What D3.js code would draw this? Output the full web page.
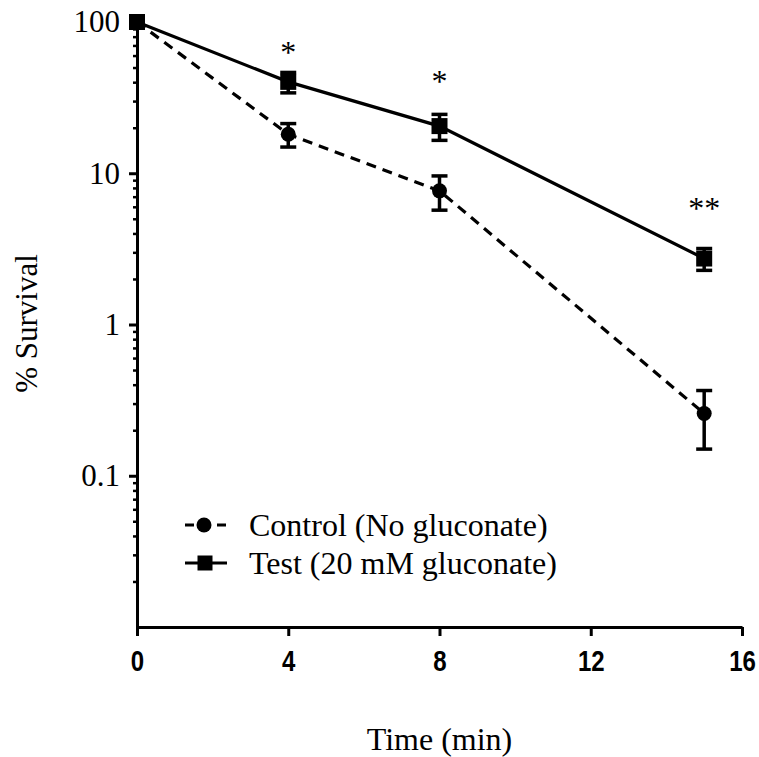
<!DOCTYPE html>
<html><head><meta charset="utf-8">
<script src="https://cdn.jsdelivr.net/npm/d3@7"></script>
<style>
body{margin:0;background:#fff;}
svg{display:block;}
</style></head>
<body>
<svg id="chart" width="759" height="757"></svg>
<script>
// ---- data ----
const times = [0, 4, 8, 15];
const controlMean = [100, 18.1, 7.65, 0.258];
const controlErr  = [0, 3.2, 1.95, 0.108];
const testMean    = [100, 40.2, 20.5, 2.73];
const testErr     = [0, 6.2, 4.0, 0.45];
const sigTimes  = [4, 8, 15];
const sigLabels = ["*", "*", "**"];
const sigValues = [67, 43, 6.3];
const xTickValues = [0, 4, 8, 12, 16];
const yTickValues = [0.1, 1, 10, 100];
const yTickLabels = ["0.1", "1", "10", "100"];
const seriesNames = ["Control (No gluconate)", "Test (20 mM gluconate)"];
const xTitle = "Time (min)";
const yTitle = "% Survival";

(function () {
// ---- layout ----
const svg = d3.select("#chart");
const mLeft = 137, mRight = 742, mTop = 22, mBottom = 627;
const x = d3.scaleLinear().domain([0, 16]).range([mLeft, mRight]);
const y = d3.scaleLog().domain([0.01, 100]).range([mBottom, mTop]);
const serif = "'Liberation Serif','Times New Roman',serif";

// minor y ticks
const minor = y.ticks().filter(v => !yTickValues.includes(v) && v !== 0.01);
svg.append("g").attr("transform", `translate(${mLeft},0)`)
  .call(d3.axisLeft(y).tickValues(minor).tickSize(4).tickFormat(""))
  .call(g => g.select(".domain").remove())
  .selectAll("line").attr("stroke", "#000").attr("stroke-width", 2.5);

// major y axis
const yAxis = svg.append("g").attr("transform", `translate(${mLeft},0)`)
  .call(d3.axisLeft(y).tickValues(yTickValues).tickSize(8).tickSizeOuter(0).tickPadding(9)
    .tickFormat((d, i) => yTickLabels[i]));
yAxis.select(".domain").attr("stroke", "#000").attr("stroke-width", 3);
yAxis.selectAll(".tick line").attr("stroke", "#000").attr("stroke-width", 3);
yAxis.selectAll("text").attr("font-family", serif).attr("font-size", 31).attr("fill", "#000");

// x axis
const xAxis = svg.append("g").attr("transform", `translate(0,${mBottom})`)
  .call(d3.axisBottom(x).tickValues(xTickValues).tickSize(9).tickSizeOuter(0).tickPadding(14));
xAxis.select(".domain").attr("stroke", "#000").attr("stroke-width", 3);
xAxis.selectAll(".tick line").attr("stroke", "#000").attr("stroke-width", 3);
xAxis.selectAll("text")
  .attr("font-family", "'Liberation Sans',Arial,sans-serif")
  .attr("font-weight", "bold").attr("font-size", 30).attr("fill", "#000")
  .attr("transform", "scale(0.8,1)");

// titles
svg.append("text").attr("x", (mLeft + mRight) / 2).attr("y", 750)
  .attr("text-anchor", "middle").attr("font-family", serif).attr("font-size", 32).text(xTitle);
svg.append("text").attr("transform", `translate(37,${(mTop + mBottom) / 2 - 1}) rotate(-90)`)
  .attr("text-anchor", "middle").attr("font-family", serif).attr("font-size", 31).text(yTitle);

// series
const ctrl = times.map((t, i) => ({t, v: controlMean[i], e: controlErr[i]}));
const test = times.map((t, i) => ({t, v: testMean[i], e: testErr[i]}));
const line = d3.line().x(d => x(d.t)).y(d => y(d.v));

svg.append("path").datum(ctrl).attr("d", line).attr("fill", "none")
  .attr("stroke", "#000").attr("stroke-width", 3.2).attr("stroke-dasharray", "10,7");
svg.append("path").datum(test).attr("d", line).attr("fill", "none")
  .attr("stroke", "#000").attr("stroke-width", 3.2);

function errorBars(data) {
  const g = svg.append("g").attr("stroke", "#000").attr("stroke-width", 3.5);
  data.filter(d => d.e > 0).forEach(d => {
    const cx = x(d.t), y1 = y(d.v + d.e), y2 = y(d.v - d.e);
    g.append("line").attr("x1", cx).attr("x2", cx).attr("y1", y1).attr("y2", y2);
    g.append("line").attr("x1", cx - 8).attr("x2", cx + 8).attr("y1", y1).attr("y2", y1);
    g.append("line").attr("x1", cx - 8).attr("x2", cx + 8).attr("y1", y2).attr("y2", y2);
  });
}
errorBars(ctrl);
errorBars(test);

svg.append("g").selectAll("circle").data(ctrl).join("circle")
  .attr("cx", d => x(d.t)).attr("cy", d => y(d.v)).attr("r", 7.5).attr("fill", "#000");
svg.append("g").selectAll("rect").data(test).join("rect")
  .attr("x", d => x(d.t) - 8).attr("y", d => y(d.v) - 8).attr("width", 16).attr("height", 16).attr("fill", "#000");

// significance
svg.append("g").selectAll("text").data(sigTimes).join("text")
  .attr("x", d => x(d)).attr("y", (d, i) => y(sigValues[i]) + 15)
  .attr("text-anchor", "middle").attr("font-family", serif).attr("font-size", 32)
  .text((d, i) => sigLabels[i]);

// legend
const lg = svg.append("g");
const lx = 185, ly = [525, 563];
lg.append("line").attr("x1", lx).attr("x2", lx + 42).attr("y1", ly[0]).attr("y2", ly[0])
  .attr("stroke", "#000").attr("stroke-width", 3.2).attr("stroke-dasharray", "9,8,3,12");
lg.append("circle").attr("cx", lx + 19).attr("cy", ly[0]).attr("r", 7.5).attr("fill", "#000");
lg.append("line").attr("x1", lx).attr("x2", lx + 42).attr("y1", ly[1]).attr("y2", ly[1])
  .attr("stroke", "#000").attr("stroke-width", 3.2);
lg.append("rect").attr("x", lx + 20 - 7.5).attr("y", ly[1] - 7.5).attr("width", 15).attr("height", 15).attr("fill", "#000");
lg.selectAll("text").data(seriesNames).join("text")
  .attr("x", 249).attr("y", (d, i) => ly[i] + 11)
  .attr("font-family", serif).attr("font-size", 32).text(d => d);
})();
</script>
</body></html>
